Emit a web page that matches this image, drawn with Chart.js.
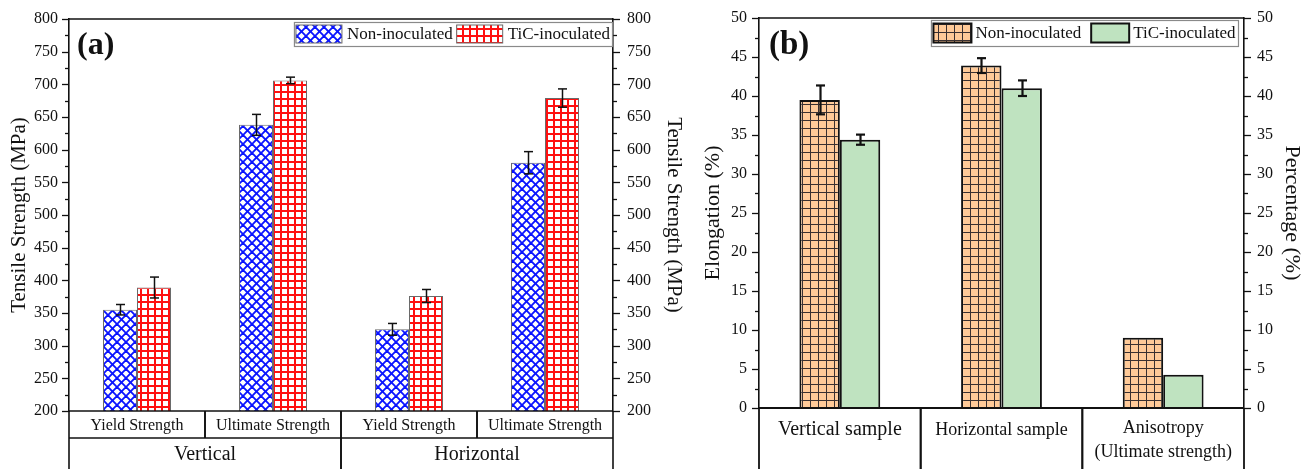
<!DOCTYPE html>
<html>
<head>
<meta charset="utf-8">
<script src="https://cdn.jsdelivr.net/npm/chart.js@4.4.1/dist/chart.umd.min.js"></script>
<style>
html, body { margin: 0; padding: 0; background: #fff; }
#wrapA { position: absolute; left: 0; top: 0; }
#wrapB { position: absolute; left: 690px; top: 0; }
</style>
</head>
<body>
<div id="wrapA"><canvas id="chartA" width="690" height="469"></canvas></div>
<div id="wrapB"><canvas id="chartB" width="621" height="469"></canvas></div>
<script>
// ---- data, panel (a)
var categoriesA = ['Yield Strength', 'Ultimate Strength', 'Yield Strength', 'Ultimate Strength'];
var groupsA = ['Vertical', 'Horizontal'];
var groupSizesA = [2, 2];
var nonInoculatedA = [355, 638, 325, 580];
var nonInoculatedErrA = [8, 16, 9, 17];
var ticInoculatedA = [389, 706, 376, 679];
var ticInoculatedErrA = [16, 5, 10, 14];

// ---- data, panel (b)
var categoriesB = [['Vertical sample'], ['Horizontal sample'], ['Anisotropy', '(Ultimate strength)']];
var nonInoculatedB = [39.5, 43.9, 9.0];
var nonInoculatedErrB = [1.85, 0.95, null];
var ticInoculatedB = [34.4, 41.0, 4.25];
var ticInoculatedErrB = [0.65, 1.0, null];

var seriesNames = ['Non-inoculated', 'TiC-inoculated'];

var serif = '"Liberation Serif", "Times New Roman", serif';
var ink = '#111';

// fill patterns
function makeTile(size, draw) {
  var c = document.createElement('canvas');
  c.width = size; c.height = size;
  var g = c.getContext('2d');
  draw(g, size);
  return g.createPattern(c, 'repeat');
}
var bluePattern = makeTile(9, function (g, s) {
  g.fillStyle = '#fff'; g.fillRect(0, 0, s, s);
  g.strokeStyle = '#0a14ff'; g.lineWidth = 1.9;
  [-s, 0, s].forEach(function (o) {
    g.beginPath(); g.moveTo(o, 0); g.lineTo(o + s, s); g.stroke();
    g.beginPath(); g.moveTo(o + s, 0); g.lineTo(o, s); g.stroke();
  });
});
var redPattern = makeTile(7, function (g, s) {
  g.fillStyle = '#fff'; g.fillRect(0, 0, s, s);
  g.fillStyle = '#ff1010';
  g.fillRect(0, 0, 2, s); g.fillRect(0, 0, s, 2);
});
var orangePattern = makeTile(8, function (g, s) {
  g.fillStyle = '#ffca98'; g.fillRect(0, 0, s, s);
  g.fillStyle = '#3a3030';
  g.fillRect(0, 0, 1, s); g.fillRect(0, 0, s, 1);
});
var greenFill = '#bfe3c0';

function yAxis(pos, min, max, step, titleText, titlePad, labelPad, width, titleSize) {
  return {
    position: pos, min: min, max: max,
    grid: { display: true, drawOnChartArea: false, drawTicks: false },
    border: { display: true, color: ink, width: 1.6 },
    ticks: { stepSize: step, padding: labelPad, color: ink, font: { family: serif, size: 16 } },
    title: { display: true, text: titleText, color: ink, font: { family: serif, size: titleSize }, padding: { top: titlePad, bottom: 0 } },
    afterFit: function (s) { s.width = width; s.paddingTop = 0; s.paddingBottom = 0; }
  };
}

function line(ctx, x1, y1, x2, y2) {
  ctx.beginPath(); ctx.moveTo(x1, y1); ctx.lineTo(x2, y2); ctx.stroke();
}

// minor + major ticks, top frame line, panel letter
var framePlugin = {
  id: 'frame',
  afterDraw: function (chart, args, o) {
    var ctx = chart.ctx, ca = chart.chartArea;
    ctx.save();
    ctx.strokeStyle = ink; ctx.lineWidth = 1.6;
    line(ctx, ca.left, ca.top, ca.right, ca.top);
    ['y', 'y2'].forEach(function (id) {
      var s = chart.scales[id];
      var ax = s.position === 'left' ? s.right : s.left;
      var dir = s.position === 'left' ? -1 : 1;
      ctx.lineWidth = 1.3;
      for (var v = s.min; v <= s.max + 1e-9; v += o.minor) {
        var py = Math.round(s.getPixelForValue(v)) + 0.5;
        var major = Math.abs(v / o.major - Math.round(v / o.major)) < 1e-6;
        line(ctx, ax, py, ax + dir * (major ? 7 : 4), py);
      }
    });
    ctx.fillStyle = ink;
    ctx.font = 'bold ' + o.letterSize + 'px ' + serif;
    ctx.textBaseline = 'middle'; ctx.textAlign = 'left';
    ctx.fillText(o.letter, ca.left + o.letterX, o.letterY);
    ctx.restore();
  }
};

var errorPlugin = {
  id: 'errorbars',
  afterDatasetsDraw: function (chart, args, o) {
    var ctx = chart.ctx, y = chart.scales.y;
    ctx.save();
    ctx.strokeStyle = '#111'; ctx.lineWidth = o.width;
    chart.data.datasets.forEach(function (ds, di) {
      var errs = o.errors[di];
      chart.getDatasetMeta(di).data.forEach(function (bar, i) {
        if (errs[i] == null) return;
        var v = ds.data[i];
        var yt = y.getPixelForValue(v + errs[i]), yb = y.getPixelForValue(v - errs[i]);
        var cx = Math.round(bar.x) + 0.5;
        line(ctx, cx, yt, cx, yb);
        line(ctx, cx - o.cap, yt, cx + o.cap, yt);
        line(ctx, cx - o.cap, yb, cx + o.cap, yb);
      });
    });
    ctx.restore();
  }
};

var legendPlugin = {
  id: 'boxlegend',
  afterDraw: function (chart, args, o) {
    var ctx = chart.ctx, ca = chart.chartArea;
    ctx.save();
    ctx.font = o.fontSize + 'px ' + serif;
    var items = chart.data.datasets.map(function (ds) {
      return { ds: ds, w: ctx.measureText(ds.label).width };
    });
    var total = o.pad * 2 + o.gap2 * (items.length - 1);
    items.forEach(function (it) { total += o.sw + o.gap + it.w; });
    var x = ca.right - o.right - total, top = ca.top + o.top;
    ctx.fillStyle = '#fff';
    ctx.fillRect(x, top, total, o.h);
    ctx.strokeStyle = '#8a8a8a'; ctx.lineWidth = 1.2;
    ctx.strokeRect(x + 0.5, top + 0.5, total, o.h);
    var cx = x + o.pad;
    items.forEach(function (it) {
      var sy = top + (o.h - o.sh) / 2;
      ctx.fillStyle = it.ds.backgroundColor;
      ctx.fillRect(cx, sy, o.sw, o.sh);
      ctx.strokeStyle = it.ds.borderColor; ctx.lineWidth = it.ds.borderWidth;
      ctx.strokeRect(cx, sy, o.sw, o.sh);
      ctx.fillStyle = ink; ctx.textBaseline = 'middle'; ctx.textAlign = 'left';
      ctx.fillText(it.ds.label, cx + o.sw + o.gap, top + o.h / 2 + 1);
      cx += o.sw + o.gap + it.w + o.gap2;
    });
    ctx.restore();
  }
};

// category table below panel (a)
var tableAPlugin = {
  id: 'tableA',
  afterDraw: function (chart) {
    var ctx = chart.ctx, ca = chart.chartArea, x = chart.scales.x;
    var row1 = ca.bottom + 27, bottom = chart.height;
    ctx.save();
    ctx.strokeStyle = ink; ctx.lineWidth = 1.6;
    line(ctx, ca.left, ca.bottom, ca.right, ca.bottom);
    line(ctx, ca.left, row1, ca.right, row1);
    ctx.fillStyle = ink; ctx.textAlign = 'center'; ctx.textBaseline = 'middle';
    ctx.font = '16px ' + serif;
    categoriesA.forEach(function (c, i) {
      var l = x.getPixelForValue(i - 0.5), r = x.getPixelForValue(i + 0.5);
      line(ctx, l, ca.bottom, l, row1);
      line(ctx, r, ca.bottom, r, row1);
      ctx.fillText(c, x.getPixelForValue(i), (ca.bottom + row1) / 2 + 1);
    });
    ctx.font = '20px ' + serif;
    var start = 0;
    groupsA.forEach(function (g, gi) {
      var l = x.getPixelForValue(start - 0.5), r = x.getPixelForValue(start + groupSizesA[gi] - 0.5);
      line(ctx, l, row1, l, bottom);
      line(ctx, r, row1, r, bottom);
      ctx.fillText(g, (l + r) / 2, row1 + 17);
      start += groupSizesA[gi];
    });
    ctx.restore();
  }
};

// category table below panel (b)
var tableBPlugin = {
  id: 'tableB',
  afterDraw: function (chart, args, o) {
    var ctx = chart.ctx, ca = chart.chartArea, x = chart.scales.x;
    ctx.save();
    ctx.strokeStyle = ink; ctx.lineWidth = 1.8;
    line(ctx, ca.left, ca.bottom, ca.right, ca.bottom);
    ctx.fillStyle = ink; ctx.textAlign = 'center'; ctx.textBaseline = 'middle';
    categoriesB.forEach(function (c, i) {
      var l = x.getPixelForValue(i - 0.5), r = x.getPixelForValue(i + 0.5);
      line(ctx, l, ca.bottom, l, chart.height);
      line(ctx, r, ca.bottom, r, chart.height);
      ctx.font = o.sizes[i] + 'px ' + serif;
      c.forEach(function (t, k) {
        var yy = c.length > 1 ? ca.bottom + 20 + k * 24 : ca.bottom + 22;
        ctx.fillText(t, x.getPixelForValue(i), yy);
      });
    });
    ctx.restore();
  }
};

new Chart(document.getElementById('chartA'), {
  type: 'bar',
  data: {
    labels: categoriesA,
    datasets: [
      { label: seriesNames[0], data: nonInoculatedA, backgroundColor: bluePattern, borderColor: '#6a6a6a', borderWidth: 1, categoryPercentage: 0.5, barPercentage: 1.0 },
      { label: seriesNames[1], data: ticInoculatedA, backgroundColor: redPattern, borderColor: '#6a6a6a', borderWidth: 1, categoryPercentage: 0.5, barPercentage: 1.0 }
    ]
  },
  options: {
    responsive: false, animation: false,
    layout: { padding: { top: 19, bottom: 58, left: 0, right: 0 } },
    scales: {
      x: { display: false },
      y: yAxis('left', 200, 800, 50, 'Tensile Strength (MPa)', 7, 11, 69, 21),
      y2: yAxis('right', 200, 800, 50, 'Tensile Strength (MPa)', 4, 14, 77, 21)
    },
    plugins: {
      legend: { display: false },
      tooltip: { enabled: false },
      frame: { minor: 25, major: 50, letter: '(a)', letterSize: 32, letterX: 8, letterY: 46 },
      errorbars: { errors: [nonInoculatedErrA, ticInoculatedErrA], cap: 4.5, width: 1.5 },
      boxlegend: { fontSize: 17, pad: 2, sw: 46, sh: 18, gap: 5, gap2: 4, h: 24, right: 1, top: 3 }
    }
  },
  plugins: [framePlugin, errorPlugin, legendPlugin, tableAPlugin]
});

new Chart(document.getElementById('chartB'), {
  type: 'bar',
  data: {
    labels: categoriesB,
    datasets: [
      { label: seriesNames[0], data: nonInoculatedB, backgroundColor: orangePattern, borderColor: '#111', borderWidth: 2, categoryPercentage: 0.5, barPercentage: 1.0 },
      { label: seriesNames[1], data: ticInoculatedB, backgroundColor: greenFill, borderColor: '#111', borderWidth: 2, categoryPercentage: 0.5, barPercentage: 1.0 }
    ]
  },
  options: {
    responsive: false, animation: false,
    layout: { padding: { top: 18, bottom: 61, left: 0, right: 0 } },
    scales: {
      x: { display: false },
      y: yAxis('left', 0, 50, 5, 'Elongation (%)', 10, 12, 69, 22),
      y2: yAxis('right', 0, 50, 5, 'Percentage (%)', 6, 13, 67, 22)
    },
    plugins: {
      legend: { display: false },
      tooltip: { enabled: false },
      frame: { minor: 2.5, major: 5, letter: '(b)', letterSize: 33, letterX: 10, letterY: 45 },
      errorbars: { errors: [nonInoculatedErrB, ticInoculatedErrB], cap: 4.5, width: 2.2 },
      boxlegend: { fontSize: 17, pad: 2.5, sw: 38, sh: 19, gap: 4, gap2: 10, h: 26, right: 6, top: 2 },
      tableB: { sizes: [20, 18, 18] }
    }
  },
  plugins: [framePlugin, errorPlugin, legendPlugin, tableBPlugin]
});
</script>
</body>
</html>
